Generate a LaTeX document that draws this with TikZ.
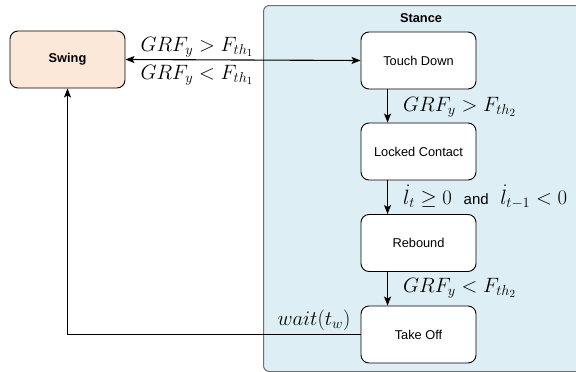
\documentclass[tikz,border=0pt]{standalone}
\usepackage{fontspec}
\setmainfont{Liberation Sans}
\usetikzlibrary{arrows.meta}
\definecolor{stancefill}{RGB}{221,239,244}
\definecolor{stanceline}{RGB}{105,115,118}
\definecolor{swingfill}{RGB}{252,232,216}
\tikzset{
  state/.style={draw=black, line width=0.9pt, rounded corners=8pt, fill=white,
    minimum width=115pt, minimum height=57pt, inner sep=0pt,
    font=\fontsize{12.8}{14}\selectfont},
  conn/.style={line width=1.1pt, -{Stealth[length=9pt,width=7pt,inset=2pt]}},
  cond/.style={inner sep=0pt, font=\fontsize{21}{24}\selectfont},
}
\begin{document}
\begin{tikzpicture}[x=1pt, y=-1pt]
  \useasboundingbox (0,0) rectangle (576,372);
  \clip (0,0) rectangle (576,372);
  % stance container
  \node[draw=stanceline, line width=1pt, fill=stancefill, rounded corners=6pt,
        minimum width=340pt, minimum height=366pt, inner sep=0pt, anchor=north west]
        (stance) at (263,5) {};
  \node[font=\fontsize{12.8}{14}\selectfont\bfseries] (stancelbl) at (421,18) {Stance};
  % states
  \node[state, fill=swingfill, font=\fontsize{12.8}{14}\selectfont\bfseries] (swing) at (67.5,59.5) {Swing};
  \node[state] (td) at (418.5,60.5) {Touch Down};
  \node[state] (lc) at (418.5,151.5) {Locked Contact};
  \node[state] (rb) at (418.5,243) {Rebound};
  \node[state] (to) at (418.5,334.5) {Take Off};
  % transitions
  \draw[conn, {Stealth[length=9pt,width=7pt,inset=2pt]}-{Stealth[length=9pt,width=7pt,inset=2pt]}]
    (swing.east) -- (td.west);
  \node[cond] (c1) at (197,47) {$GRF_y > F_{th_1}$};
  \node[cond] (c2) at (197,75) {$GRF_y < F_{th_1}$};
  \draw[conn] ([xshift=27pt]td.south west) -- ([xshift=27pt]lc.north west);
  \node[cond, anchor=west] (c3) at (403,107) {$GRF_y > F_{th_2}$};
  \draw[conn] ([xshift=27pt]lc.south west) -- ([xshift=27pt]rb.north west);
  \node[cond, anchor=west] (c4) at (403,197) {$\dot{l}_t \geq 0$\ \ {\fontsize{15}{17}\selectfont and}\ \ $\dot{l}_{t-1} < 0$};
  \draw[conn] ([xshift=27pt]rb.south west) -- ([xshift=27pt]to.north west);
  \node[cond, anchor=west] (c5) at (403,288) {$GRF_y < F_{th_2}$};
  \draw[conn] (to.west) -| (swing.south);
  \node[cond] (c6) at (314,320) {$wait(t_w)$};
\end{tikzpicture}
\end{document}
